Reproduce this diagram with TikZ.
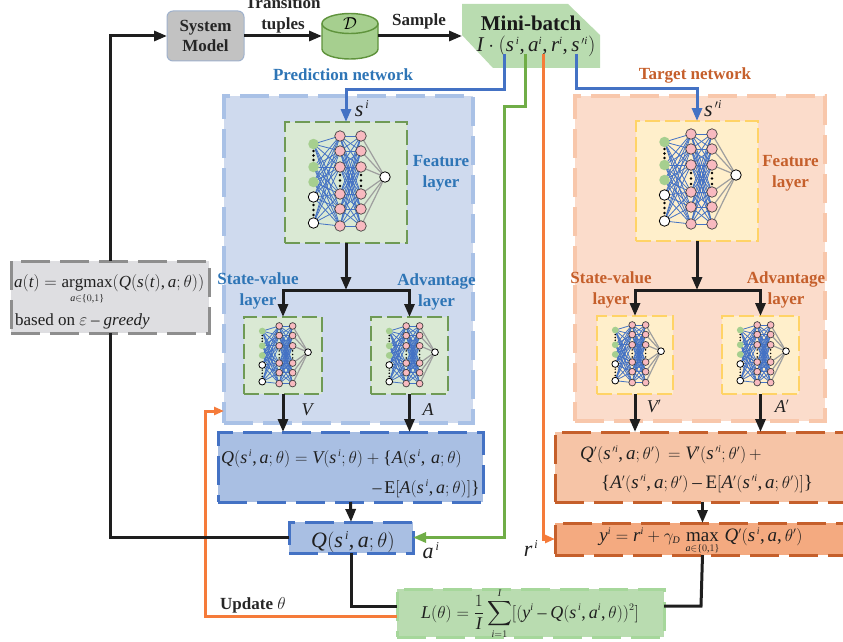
\documentclass[tikz,border=0pt]{standalone}
\usepackage{amsmath}
\usepackage{fontspec}
\setmainfont{Liberation Serif}
\usepackage[italic]{mathastext}
\usetikzlibrary{arrows.meta,calc}
\DeclareMathSizes{17}{17}{10}{8}
\DeclareMathSizes{18}{18}{10}{8}
\DeclareMathSizes{19}{19}{10}{8}
\DeclareMathSizes{21}{21}{11}{8}
\DeclareMathSizes{22}{22}{12}{9}
\definecolor{cblue}{HTML}{4472C4}
\definecolor{cgreen}{HTML}{70AD47}
\definecolor{corange}{HTML}{F57B3A}
\definecolor{tblue}{HTML}{2E75B6}
\definecolor{torange}{HTML}{C55F2B}
\definecolor{cblack}{HTML}{1E1E1E}
\newcommand{\fs}[1]{\fontsize{#1}{#1}\selectfont}
\newcommand{\si}{s^{\,i}}
\newcommand{\spi}{s^{\,\prime i}}
\tikzset{
 x=1pt,y=-1pt,
 tip/.style={-{Triangle[length=13pt,width=10pt]}},
 flow/.style={draw=cblack,line width=3pt},
 bluew/.style={draw=cblue,line width=3pt},
 greenw/.style={draw=cgreen,line width=3pt},
 orangew/.style={draw=corange,line width=3pt},
 longdash/.style={dash pattern=on 29pt off 10pt},
 shortdash/.style={dash pattern=on 15pt off 5pt},
 boxbase/.style={rectangle,inner sep=0pt,outer sep=0pt},
 predframe/.style={boxbase,fill=HFill,draw=HDraw,line width=3.5pt,longdash},
 targframe/.style={boxbase,fill=TFill,draw=TDraw,line width=3.5pt,longdash},
 predlayer/.style={boxbase,fill=LFill,draw=LDraw,line width=1.8pt,shortdash},
 targlayer/.style={boxbase,fill=YFill,draw=YDraw,line width=1.8pt,shortdash},
 qpred/.style={boxbase,fill=QFill,draw=cblue,line width=3pt,longdash},
 qtarg/.style={boxbase,fill=PFill,draw=torange,line width=3pt,longdash},
 qy/.style={boxbase,fill=RFill,draw=torange,line width=3pt,longdash},
 lossbox/.style={boxbase,fill=GFill,draw=GDraw,line width=3pt,longdash},
 grayb/.style={boxbase,fill=KFill,draw=KDraw,line width=3pt,longdash},
 lab/.style={inner sep=0pt,font=\fs{17}\bfseries,text=black!85},
 labb/.style={lab,text=tblue},
 labo/.style={lab,text=torange},
 eq/.style={inner sep=0pt,anchor=base,font=\fs{18},text=black!88},
 eqt/.style={inner sep=0pt,anchor=base,font=\fs{19},text=black!88},
 eqb/.style={inner sep=0pt,anchor=base,font=\fs{22},text=black!88},
 innode/.style={circle,inner sep=0pt,fill=InG},
 wnode/.style={circle,inner sep=0pt,fill=white,draw=black,line width=.8pt},
 pnode/.style={circle,inner sep=0pt,fill=Pink,draw=black!75,line width=.7pt},
}
\definecolor{HFill}{HTML}{CFDAEE}\definecolor{HDraw}{HTML}{A9C1E6}
\definecolor{TFill}{HTML}{FBDCCB}\definecolor{TDraw}{HTML}{F8C7AB}
\definecolor{LFill}{HTML}{DAE9D4}\definecolor{LDraw}{HTML}{6F9A55}
\definecolor{YFill}{HTML}{FFEFCB}\definecolor{YDraw}{HTML}{FFD366}
\definecolor{QFill}{HTML}{A9BFE3}\definecolor{PFill}{HTML}{F6C4A6}
\definecolor{RFill}{HTML}{F4AA80}\definecolor{GFill}{HTML}{B9DCB0}
\definecolor{GDraw}{HTML}{A6D79B}\definecolor{KFill}{HTML}{DEDEE1}
\definecolor{KDraw}{HTML}{8E8E8E}\definecolor{InG}{HTML}{A6CF8F}
\definecolor{Pink}{HTML}{F8BAC0}\definecolor{NBlue}{HTML}{4472C4}
\definecolor{NGray}{HTML}{9E9E9E}
% prefix, origin x, origin y, scale
\newcommand{\nnet}[4]{%
 \begin{scope}[shift={(#2,#3)},scale=#4]
  \foreach \i/\yy in {1/22,2/45,3/60,4/75,5/101} \coordinate (#1i\i) at (28.5,\yy);
  \foreach \i/\yy in {1/14,2/29,3/45,4/72,5/87,6/104} {\coordinate (#1a\i) at (55,\yy);\coordinate (#1b\i) at (76,\yy);}
  \coordinate (#1o) at (100,55);
  \foreach \i in {1,...,5} \foreach \j in {1,...,6} \draw[NBlue,line width=.8pt] (#1i\i) -- (#1a\j);
  \foreach \i in {1,...,6} \foreach \j in {1,...,6} \draw[NBlue,line width=.8pt] (#1a\i) -- (#1b\j);
  \foreach \i in {1,...,6} \draw[NGray,line width=1.2pt] (#1b\i) -- (#1o);
  \foreach \xx/\ya in {28.5/29,28.5/33.5,28.5/38,28.5/83,28.5/88,28.5/93,55/53,55/58.5,55/64,76/53,76/58.5,76/64}
    \fill[black] (\xx,\ya) circle (1.3);
  \foreach \i in {1,2,3} \node[innode,minimum size=#4*10.5pt] (#1ni\i) at (#1i\i) {};
  \foreach \i in {4,5} \node[wnode,minimum size=#4*10.5pt] (#1ni\i) at (#1i\i) {};
  \foreach \i in {1,...,6} {\node[pnode,minimum size=#4*10.5pt] (#1na\i) at (#1a\i) {};\node[pnode,minimum size=#4*10.5pt] (#1nb\i) at (#1b\i) {};}
  \node[wnode,minimum size=#4*10.5pt] (#1no) at (#1o) {};
 \end{scope}}
\begin{document}
\begin{tikzpicture}
\useasboundingbox (0,0) rectangle (843,642);
% large frames
\node[predframe,minimum width=249pt,minimum height=327pt] (pred) at (348.5,259.5) {};
\node[targframe,minimum width=250pt,minimum height=325pt] (targ) at (700,258.5) {};
% layer boxes
\node[predlayer,minimum width=122pt,minimum height=121pt] (pf) at (346,182.5) {};
\node[targlayer,minimum width=122pt,minimum height=120pt] (tf) at (697,181) {};
\node[predlayer,minimum width=78pt,minimum height=77pt] (pv) at (283,355.5) {};
\node[predlayer,minimum width=77pt,minimum height=77pt] (pa) at (409.5,355.5) {};
\node[targlayer,minimum width=76pt,minimum height=78pt] (tv) at (635,355) {};
\node[targlayer,minimum width=77pt,minimum height=78pt] (ta) at (760.5,355) {};
\nnet{pfn}{285}{122}{1}
\nnet{tfn}{636}{120}{1}
\nnet{pvn}{244}{317}{0.64}
\nnet{pan}{371}{317}{0.64}
\nnet{tvn}{597}{316}{0.64}
\nnet{tan}{722}{316}{0.64}
% equation boxes
\node[qpred,minimum width=265pt,minimum height=70pt] (qb) at (350.5,467) {};
\node[qpred,minimum width=124pt,minimum height=31pt] (qs) at (351,537.5) {};
\node[qtarg,minimum width=295pt,minimum height=70pt] (qt) at (702.5,467) {};
\node[qy,minimum width=295pt,minimum height=32pt] (yb) at (702.5,539) {};
\node[lossbox,minimum width=267pt,minimum height=48pt] (lb) at (530.5,613) {};
\node[grayb,minimum width=198pt,minimum height=72pt] (ab) at (110,297) {};
% top blocks
\node[boxbase,rounded corners=6pt,fill=black!24,draw=HDraw!75!gray,line width=1pt,minimum width=77pt,minimum height=50pt,align=center,font=\fs{17}\bfseries,text=black!85] (sm) at (205.5,36) {System\\[3pt]Model};
\node[boxbase,minimum width=56pt,minimum height=46pt] (cyl) at (350,36) {};
\filldraw[fill=InG,draw=cgreen!85!black,line width=1.4pt] (322,23.5) -- (322,49) arc[x radius=28,y radius=-10,start angle=180,end angle=360] -- (378,23.5);
\filldraw[fill=InG,draw=cgreen!85!black,line width=1.4pt] (350,23.5) ellipse[x radius=28,y radius=10];
\node[inner sep=0pt,font=\fs{17}] (dl) at (350,24) {$\mathcal{D}$};
\fill[GFill] (462,4) -- (568,4) -- (600,35) -- (600,68) -- (493,68) -- (462,35) -- cycle;
\node[boxbase,minimum width=138pt,minimum height=64pt] (mb) at (531,36) {};
\node[inner sep=0pt,font=\fs{21}\bfseries,text=black!90] (mbt) at (531,23) {Mini-batch};
\node[eq,font=\fs{21}] (mbe) at (536,52) {$I\cdot(\si,a^{i},r^{i},\spi)$};
% ports
\coordinate (ps) at (504,54);
\coordinate (pa2) at (525,54);
\coordinate (pr) at (543,54);
\coordinate (pt) at (576,54);
% connectors
\draw[flow,tip] (sm.east) -- (cyl.west |- sm.east);
\draw[flow,tip] (cyl.east) -- (mb.west |- cyl.east);
\draw[bluew,tip] (ps) -- (ps |- 0,89) -- (pf.north |- 0,89) -- (pf.north);
\draw[bluew,tip] (pt) -- (pt |- 0,88) -- (tf.north |- 0,88) -- (tf.north);
\coordinate (gb) at (504,106);
\draw[greenw,tip] (pa2) -- (pa2 |- gb) -- (gb) -- (gb |- qs.east) -- (qs.east);
\draw[orangew,-{Triangle[length=10pt,width=8pt]}] (pr) -- (pr |- yb.west) -- (yb.west);
\coordinate (ul) at (205,616);
\draw[orangew,-{Triangle[length=10pt,width=8pt]}] (lb.west |- ul) -- (ul) -- (ul |- 0,411) -- (pred.west |- 0,411);
\draw[flow] (qs.west) -- (ab.south |- qs.west) -- (ab.south);
\draw[flow,tip] (ab.north) -- (ab.north |- sm.west) -- (sm.west);
% trees
\coordinate (pj) at (346,290);
\coordinate (tj) at (697,290);
\draw[flow,tip] (pf.south) -- (pj);
\draw[flow,tip] (pj) -- (pv.north |- pj) -- (pv.north);
\draw[flow,tip] (pj) -- (pa.north |- pj) -- (pa.north);
\draw[flow,tip] (tf.south) -- (tj);
\draw[flow,tip] (tj) -- (tv.north |- tj) -- (tv.north);
\draw[flow,tip] (tj) -- (ta.north |- tj) -- (ta.north);
\draw[flow,tip] (pv.south) -- (pv.south |- qb.north);
\draw[flow,tip] (pa.south) -- (pa.south |- qb.north);
\draw[flow,tip] (tv.south) -- (tv.south |- qt.north);
\draw[flow,tip] (ta.south) -- (ta.south |- qt.north);
\draw[flow,tip] (qb.south) -- (qs.north);
\draw[flow,tip] (qt.south) -- (yb.north);
\coordinate (lj) at (351,606);
\coordinate (rj) at (701,606);
\draw[flow] (qs.south) -- (lj) -- (lb.west |- lj);
\draw[flow] (yb.south) -- (rj) -- (lb.east |- rj);
% texts
\node[lab] (tr1) at (283,3) {Transition};
\node[lab] (tr2) at (283,25) {tuples};
\node[lab] (smp) at (419,21) {Sample};
\node[labb] (pn) at (343,75) {Prediction network};
\node[labo] (tn) at (695,75) {Target network};
\node[eqb] (sil) at (362,116) {$\si$};
\node[eqb] (sir) at (713,116) {$\spi$};
\node[labb,align=center] (ffl) at (441,173.5) {Feature\\[4pt]layer};
\node[labo,align=center] (ffr) at (790.5,173.5) {Feature\\[4pt]layer};
\node[labb,align=center] (svl) at (258,290.5) {State-value\\[4pt]layer};
\node[labb,align=center] (avl) at (436.5,291.5) {Advantage\\[4pt]layer};
\node[labo,align=center] (svr) at (611,290) {State-value\\[4pt]layer};
\node[labo,align=center] (avr) at (786,290) {Advantage\\[4pt]layer};
\node[eq] (lv) at (307,415) {$V$};
\node[eq] (la) at (428,415) {$A$};
\node[eq] (lv2) at (654,412) {$V'$};
\node[eq] (la2) at (782,412) {$A'$};
\node[eq,anchor=base west] (e1) at (221,463) {$Q(\si,a;\theta)=V(\si;\theta)+\{A(\si,\,a;\theta)$};
\node[eq,anchor=base east] (e2) at (480,493) {$-\,\mathrm{E}[A(\si,a;\theta)]\}$};
\node[eqt,anchor=base west] (e3) at (580,459) {$Q'(\spi,a;\theta')\,=V'(\spi;\theta')\,+$};
\node[eqt,anchor=base west] (e4) at (601,488) {$\{A'(\spi,a;\theta')-\mathrm{E}[A'(\spi,a;\theta')]\}$};
\node[eqb] (e5) at (353,547) {$Q(\si,a;\theta)$};
\node[eqb] (lai) at (431,558) {$a^{\,i}$};
\node[eqb] (lri) at (531,556) {$r^{\,i}$};
\node[eqt] (e6) at (701,541) {$y^{i}=r^{i}+\gamma_{D}\,\max\limits_{\makebox[0pt]{$\scriptstyle a\in\{0,1\}$}}\,Q'(\si,a,\theta')$};
\node[eq] (e7) at (530,618) {$L(\theta)=\dfrac{1}{I}\displaystyle\sum_{i=1}^{I}[(y^{i}-Q(\si,a^{i},\theta))^{2}]$};
\node[lab,anchor=base west] (upd) at (220,609) {Update $\theta$};
\node[eq,anchor=base west,font=\fs{17}] (e8) at (14,287) {$a(t)=\mathop{\mathrm{argmax}}\limits_{a\in\{0,1\}}(Q(s(t),a;\theta))$};
\node[eq,anchor=base west,font=\fs{17}] (e9) at (15,325) {based on $\varepsilon-greedy$};
\end{tikzpicture}
\end{document}
